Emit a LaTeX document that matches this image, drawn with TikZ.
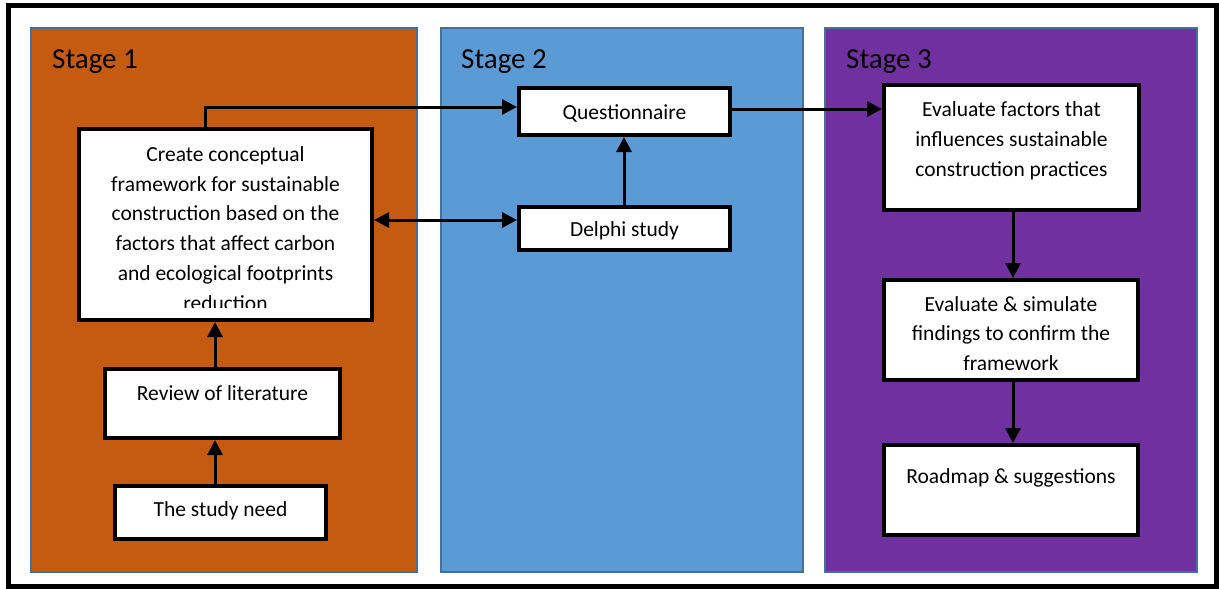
\documentclass[tikz,border=0pt]{standalone}
\usepackage{fontspec}
\setmainfont{Carlito}
\usetikzlibrary{arrows.meta}
\definecolor{stageone}{HTML}{C55A11}
\definecolor{stagetwo}{HTML}{5B9BD5}
\definecolor{stagethree}{HTML}{7030A0}
\definecolor{paneledge}{HTML}{41719C}
\begin{document}
\begin{tikzpicture}[x=1pt,y=-1pt,
  panel/.style={draw=paneledge,line width=2pt},
  box/.style={draw=black,fill=white,line width=4pt,inner sep=0pt},
  txt/.style={inner sep=0pt,align=center,font=\fontsize{21.5}{29.8}\selectfont},
  stagelbl/.style={inner sep=0pt,anchor=base west,font=\fontsize{29}{35}\selectfont},
  tip/.tip={Triangle[length=15pt,width=15pt]},
  arr/.style={line width=3pt,-tip},
  darr/.style={line width=3pt,tip-tip}]
\useasboundingbox (0,0) rectangle (1219,589);
% outer frame
\draw[line width=4.5pt] (8.5,5.5) rectangle (1216.5,586.5);
% stage panels
\draw[panel,fill=stageone]   (31,28)  rectangle (417,572);
\draw[panel,fill=stagetwo]   (441,28) rectangle (803,572);
\draw[panel,fill=stagethree] (825,28) rectangle (1197,572);
\node[stagelbl] (s1) at (52,68)  {Stage 1};
\node[stagelbl] (s2) at (461,68) {Stage 2};
\node[stagelbl] (s3) at (846,68) {Stage 3};

% stage 1
\node[box,minimum width=293pt,minimum height=191pt] (cc) at (225.5,224.5) {};
\begin{scope}
  % the last line runs past the text area of the box and is cut off
  \clip (81,131) rectangle (370,307.5);
  \node[txt,anchor=north] (cct) at (225.5,145) {\rule{0pt}{16pt}Create conceptual\\framework for sustainable\\construction based on the\\factors that affect carbon\\and ecological footprints\\reduction};
\end{scope}
\node[box,minimum width=235pt,minimum height=69pt] (rev) at (222.5,403.5) {};
\node[txt,anchor=base] (revt) at (222.5,400.7) {Review of literature};
\node[box,minimum width=211pt,minimum height=53pt] (need) at (220.5,512.5) {};
\node[txt,anchor=base] (needt) at (220.5,516.7) {The study need};

% stage 2
\node[box,minimum width=211pt,minimum height=47pt] (q) at (624.5,111.5) {};
\node[txt,anchor=base] (qt) at (624.5,119) {Questionnaire};
\node[box,minimum width=211pt,minimum height=43pt] (d) at (624.5,228.5) {};
\node[txt,anchor=base] (dt) at (624.5,236.5) {Delphi study};

% stage 3
\node[box,minimum width=255pt,minimum height=125pt] (e1) at (1011.5,147.5) {};
\node[txt,anchor=north] (e1t) at (1011.5,100.7) {\rule{0pt}{16pt}Evaluate factors that\\influences sustainable\\construction practices};
\node[box,minimum width=254pt,minimum height=100pt] (e2) at (1011,330) {};
\node[txt,anchor=north] (e2t) at (1011,294.8) {\rule{0pt}{16pt}Evaluate \& simulate\\findings to confirm the\\framework};
\node[box,minimum width=254pt,minimum height=90pt] (rm) at (1011,490) {};
\node[txt,anchor=base] (rmt) at (1011,483.3) {Roadmap \& suggestions};

% connector guide positions
\coordinate (colA) at (215,0);
\coordinate (colB) at (205,0);
\coordinate (colC) at (624,0);
\coordinate (colD) at (1013,0);
\coordinate (rowA) at (0,107);
\coordinate (rowB) at (0,109);
\coordinate (rowC) at (0,220);

% connectors
\draw[arr] (colA |- need.north) -- (colA |- rev.south);
\draw[arr] (colA |- rev.north) -- (colA |- cc.south);
\draw[arr,line join=miter] (colB |- cc.north) |- (q.west |- rowA);
\draw[darr] (cc.east |- rowC) -- (d.west |- rowC);
\draw[arr] (colC |- d.north) -- (colC |- q.south);
\draw[arr] (q.east |- rowB) -- (e1.west |- rowB);
\draw[arr] (colD |- e1.south) -- (colD |- e2.north);
\draw[arr] (colD |- e2.south) -- (colD |- rm.north);
\end{tikzpicture}
\end{document}
